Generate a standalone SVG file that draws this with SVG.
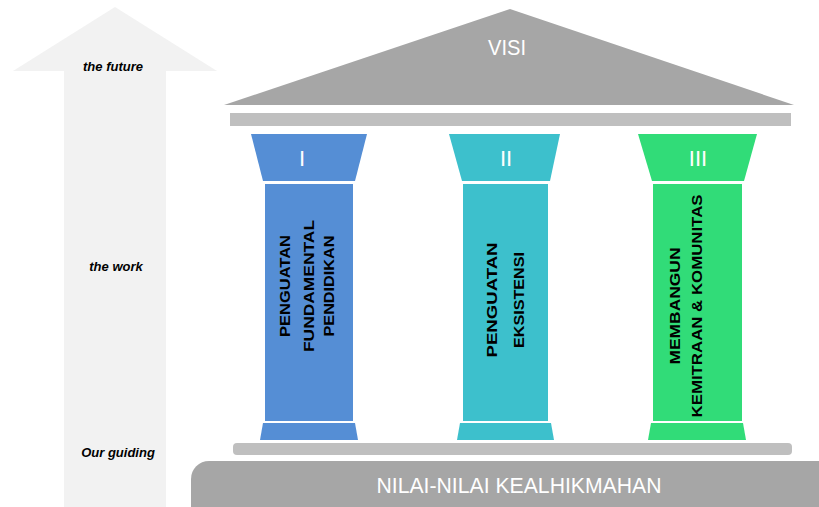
<svg xmlns="http://www.w3.org/2000/svg" width="819" height="507" viewBox="0 0 819 507">
<style>
.side{font-family:"Liberation Sans",Arial,sans-serif;font-size:13px;font-weight:bold;font-style:italic;fill:#000;text-anchor:middle}
.wt{font-family:"Liberation Sans",Arial,sans-serif;fill:#fff;text-anchor:middle}
.pt{font-family:"Liberation Sans",Arial,sans-serif;font-size:14px;font-weight:bold;fill:#000;text-anchor:middle}
.blue{fill:#558ED5}
.teal{fill:#3DC0CC}
.green{fill:#31DC78}
.roof{fill:#A6A6A6}
.beam{fill:#BFBFBF}
</style>
<rect width="819" height="507" fill="#fff"/>
<g id="arrow">
<polygon points="115,7 217,71 166,71 166,507 64,507 64,71 13,71" fill="#F2F2F2"/>
<text class="side" x="113" y="71">the future</text>
<text class="side" x="116" y="271">the work</text>
<text class="side" x="118" y="457">Our guiding</text>
</g>
<g id="roof">
<polygon class="roof" points="510,9 794,105 224,105"/>
<text class="wt" x="507" y="55" font-size="22" textLength="38" lengthAdjust="spacingAndGlyphs">VISI</text>
</g>
<g id="top-beam">
<rect class="beam" x="230" y="113" width="561" height="13"/>
</g>
<g id="pillar-1">
<polygon class="blue" points="251,134 367,134 355,181 263,181"/>
<text class="wt" x="302" y="166" font-size="22">I</text>
<rect class="blue" x="265" y="184" width="88" height="237"/>
<polygon class="blue" points="263,423 355,423 358,440 260,440"/>
<g transform="translate(285,286) rotate(-90)"><text class="pt" x="0" y="5" textLength="102" lengthAdjust="spacingAndGlyphs">PENGUATAN</text></g>
<g transform="translate(309,286) rotate(-90)"><text class="pt" x="0" y="5" textLength="132" lengthAdjust="spacingAndGlyphs">FUNDAMENTAL</text></g>
<g transform="translate(329,286) rotate(-90)"><text class="pt" x="0" y="5" textLength="101" lengthAdjust="spacingAndGlyphs">PENDIDIKAN</text></g>
</g>
<g id="pillar-2">
<polygon class="teal" points="449,134 560,134 550,181 462,181"/>
<text class="wt" x="506" y="166" font-size="22">II</text>
<rect class="teal" x="463" y="184" width="85" height="237"/>
<polygon class="teal" points="460,423 551,423 554,440 457,440"/>
<g transform="translate(490,300) rotate(-90)"><text class="pt" x="0" y="7" font-size="18" textLength="115" lengthAdjust="spacingAndGlyphs">PENGUATAN</text></g>
<g transform="translate(517,300) rotate(-90)"><text class="pt" x="0" y="7" font-size="18" textLength="96" lengthAdjust="spacingAndGlyphs">EKSISTENSI</text></g>
</g>
<g id="pillar-3">
<polygon class="green" points="638,134 757,134 744,181 652,181"/>
<text class="wt" x="698" y="166" font-size="22">III</text>
<rect class="green" x="653" y="184" width="89" height="237"/>
<polygon class="green" points="651,423 743,423 746,440 648,440"/>
<g transform="translate(675,306) rotate(-90)"><text class="pt" x="0" y="5" textLength="117" lengthAdjust="spacingAndGlyphs">MEMBANGUN</text></g>
<g transform="translate(697,306) rotate(-90)"><text class="pt" x="0" y="5" textLength="223" lengthAdjust="spacingAndGlyphs">KEMITRAAN &amp; KOMUNITAS</text></g>
</g>
<g id="bottom-beam">
<rect class="beam" x="233" y="443" width="559" height="12" rx="4"/>
</g>
<g id="foundation">
<rect class="roof" x="191" y="461" width="660" height="70" rx="18"/>
<text class="wt" x="519" y="493" font-size="22" textLength="285" lengthAdjust="spacingAndGlyphs">NILAI-NILAI KEALHIKMAHAN</text>
</g>
<g id="connectors"/>
</svg>
